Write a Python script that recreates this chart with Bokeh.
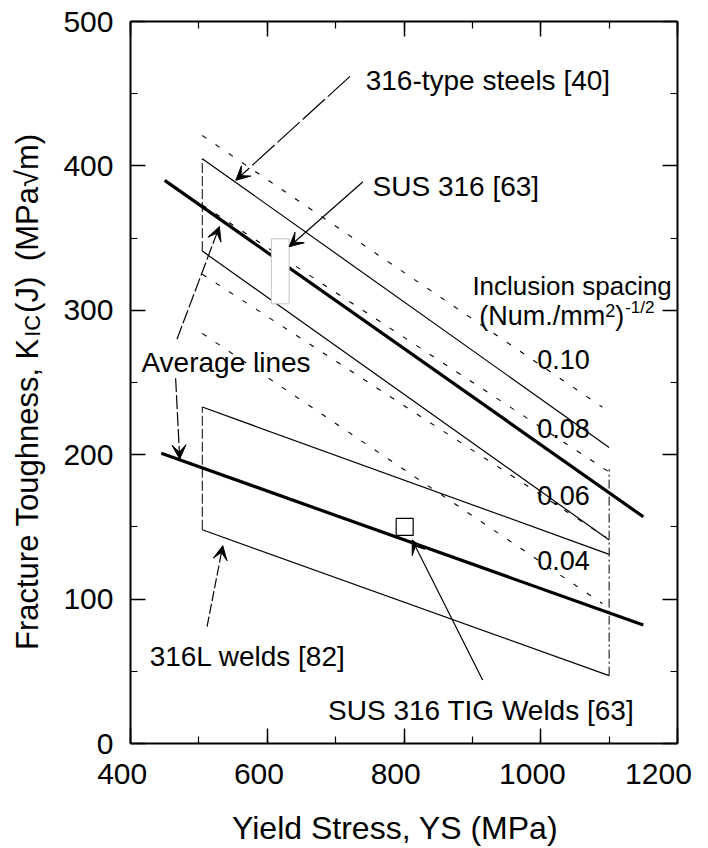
from math import pi
from bokeh.plotting import figure
from bokeh.layouts import row
from bokeh.models import (LinearAxis, SingleIntervalTicker, Range1d, Arrow,
                          VeeHead, Label)
from bokeh.core.properties import value
from bokeh.embed import file_html
from bokeh.resources import INLINE

# ---------------- data (Yield stress [MPa] vs K_IC(J) [MPa*sqrt(m)]) ----------------
steel_upper_x = [505, 1100]
steel_upper_y = [405, 205]
steel_lower_x = [505, 1100]
steel_lower_y = [341, 141]
steel_avg_x = [450, 1150]
steel_avg_y = [390, 157]

weld_upper_x = [505, 1100]
weld_upper_y = [233, 131]
weld_lower_x = [505, 1100]
weld_lower_y = [148, 47]
weld_avg_x = [445, 1150]
weld_avg_y = [201, 82]

spacing_labels = ["0.10", "0.08", "0.06", "0.04"]
spacing_x0 = [505, 505, 505, 505]
spacing_y0 = [421, 373, 325, 284]
spacing_x1 = [1090, 1100, 1095, 1090]
spacing_y1 = [233, 188, 143, 97]
spacing_label_x = [995, 995, 995, 995]
spacing_label_y = [266, 218, 172, 127]

steel_left_x = [505, 505]
steel_left_y = [341, 405]
weld_left_x = [505, 505]
weld_left_y = [148, 233]
right_bound_x = [1100, 1100]
right_bound_y = [47, 190]

sus316_x = [619]
sus316_y = [327]
sus316_w = [26]
sus316_h = [45]
tig_x = [801]
tig_y = [150]

x_ticks = [400, 600, 800, 1000, 1200]

FONT = "Liberation Sans"
H = 848
LW = 60      # width of the strip holding the y-axis title
PW = 648     # width of the main plot
TOP, BOTTOM = 21, 101

# ---------------- y-axis title strip (rotated text with subscript) ----------------
# strip coordinates: x = pixels from the left, y = pixels from the bottom of the page
yl = figure(width=LW, height=H, x_range=Range1d(0, LW), y_range=Range1d(BOTTOM, H - TOP),
            output_backend="svg", toolbar_location=None,
            x_axis_location=None, y_axis_location=None,
            min_border_left=0, min_border_right=0,
            min_border_top=TOP, min_border_bottom=BOTTOM)
yl.grid.visible = False
yl.outline_line_color = None

def ytext(x, y, t, size):
    yl.text(x=[x], y=[y], text=[t], angle=pi / 2, text_font=value(FONT),
            text_font_size=value(f"{size}px"), text_color="black",
            text_baseline="alphabetic", text_align="left")

ytext(27, 195, "Fracture Toughness, K", 31)
ytext(32, 510, "IC", 22)
ytext(27, 534, "(J)", 31)
ytext(27, 586, "(MPa\u221am)", 31)

# ---------------- main plot ----------------
p = figure(width=PW, height=H, x_range=Range1d(400, 1200), y_range=Range1d(0, 500),
           output_backend="svg", toolbar_location=None,
           min_border_left=129 - LW, min_border_right=31,
           min_border_top=TOP, min_border_bottom=BOTTOM)
p.grid.visible = False
p.outline_line_color = None
p.background_fill_color = "white"

xt = SingleIntervalTicker(interval=200, num_minor_ticks=2)
yt = SingleIntervalTicker(interval=100, num_minor_ticks=2)

def style_axis(ax):
    ax.axis_line_width = 2
    ax.axis_line_color = "black"
    ax.major_tick_in = 15
    ax.major_tick_out = 0
    ax.minor_tick_in = 7
    ax.minor_tick_out = 0
    ax.major_tick_line_width = 1.5
    ax.minor_tick_line_width = 1.2
    ax.major_tick_line_color = "black"
    ax.minor_tick_line_color = "black"
    ax.major_label_text_font = FONT
    ax.major_label_text_color = "black"

xa = p.xaxis[0]
ya = p.yaxis[0]
xa.ticker = xt
ya.ticker = yt
style_axis(xa)
style_axis(ya)
xa.major_label_text_font_size = "30px"
ya.major_label_text_font_size = "30px"
xa.major_label_standoff = 13
ya.major_label_standoff = 17
xa.major_label_overrides = {v: f"{v}\u00a0\u00a0" for v in x_ticks}
xa.axis_label = "Yield Stress, YS (MPa)\u00a0\u00a0"
xa.axis_label_text_font = FONT
xa.axis_label_text_font_size = "32px"
xa.axis_label_text_font_style = "normal"
xa.axis_label_text_color = "black"
xa.axis_label_standoff = 17

for loc, tk in (("above", xt), ("right", yt)):
    ax = LinearAxis(ticker=tk)
    style_axis(ax)
    ax.major_label_text_font_size = "0px"
    ax.major_label_standoff = 0
    ax.major_label_text_color = None
    p.add_layout(ax, loc)

# ---------------- lines ----------------
p.segment(spacing_x0, spacing_y0, spacing_x1, spacing_y1, line_color="black",
          line_width=1.1, line_dash="5 11")
p.line(steel_upper_x, steel_upper_y, line_color="black", line_width=1.2)
p.line(steel_lower_x, steel_lower_y, line_color="black", line_width=1.2)
p.line(weld_upper_x, weld_upper_y, line_color="black", line_width=1.2)
p.line(weld_lower_x, weld_lower_y, line_color="black", line_width=1.2)
p.line(steel_left_x, steel_left_y, line_color="black", line_width=1, line_dash="10 3")
p.line(weld_left_x, weld_left_y, line_color="black", line_width=1, line_dash="10 3")
p.line(right_bound_x, right_bound_y, line_color="black", line_width=1, line_dash="9 3 2 3")
p.line(steel_avg_x, steel_avg_y, line_color="black", line_width=3.2)
p.line(weld_avg_x, weld_avg_y, line_color="black", line_width=3.2)

p.rect(sus316_x, sus316_y, width=sus316_w, height=sus316_h, fill_color="white",
       line_color="#c4c4c4", line_width=1)
p.scatter(tig_x, tig_y, marker="square", size=17, fill_color="white",
          line_color="black", line_width=1.2)

# ---------------- arrows ----------------
def arrow(xs, ys, xe, ye, dash="solid"):
    p.add_layout(Arrow(end=VeeHead(size=14, fill_color="black", line_color="black", line_width=1),
                       x_start=xs, y_start=ys, x_end=xe, y_end=ye,
                       line_color="black", line_width=1.2, line_dash=dash))

arrow(721, 462, 554, 390, "30 4")
arrow(740, 389, 632, 344)
arrow(468, 280, 530, 358, "14 3")
arrow(466, 253, 472, 197, "14 3")
arrow(512, 81, 535, 137, "10 3")
arrow(915, 44, 812, 141)

# ---------------- texts ----------------
def label(x, y, text, size=28, xo=0, yo=0):
    p.add_layout(Label(x=x, y=y, text=text, text_font=FONT, text_font_size=f"{size}px",
                       text_color="black", text_baseline="alphabetic", text_align="left",
                       x_offset=xo, y_offset=yo))

label(744, 459, "316-type steels [40]")
label(754, 386, "SUS 316 [63]")
label(416, 264, "Average lines")
label(428, 60, "316L welds [82]")
label(689, 23, "SUS 316 TIG Welds [63]")

label(900, 317, "Inclusion spacing", size=26)
label(910, 296, "(Num./mm", size=27)
label(910, 296, "2", size=18, xo=126, yo=6)
label(910, 296, ")", size=27, xo=136)
label(910, 296, "-1/2", size=17, xo=146, yo=9)

for lx, ly, lt in zip(spacing_label_x, spacing_label_y, spacing_labels):
    label(lx, ly, lt, size=27)

layout = row(yl, p, spacing=0)
open("out.html", "w").write(file_html(layout, INLINE))
